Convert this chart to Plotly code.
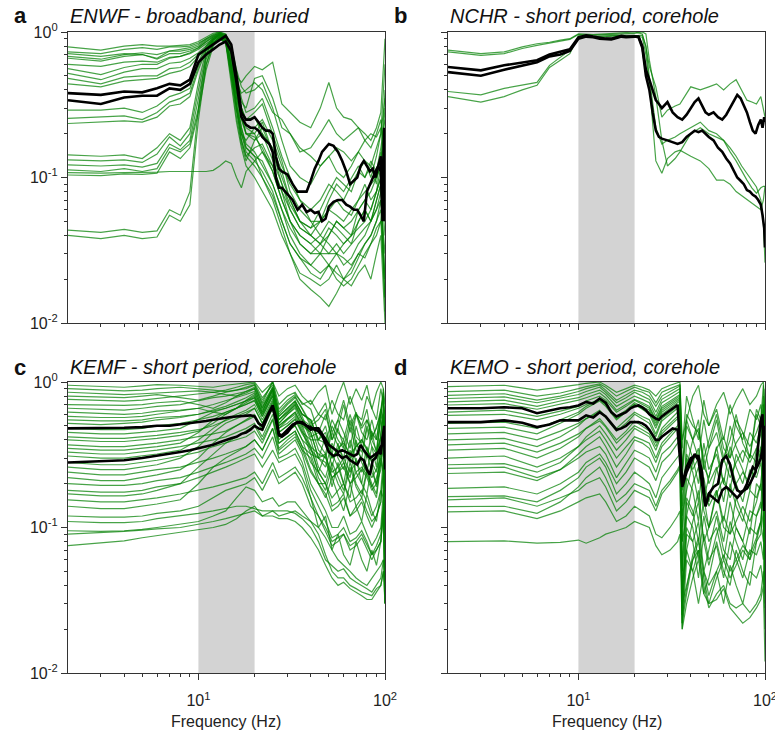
import math

import plotly.graph_objects as go

# ---------------------------------------------------------------- data
# normalised spectral amplitude vs frequency (Hz)

FREQ_A = [2, 3, 4, 5, 6, 7, 8, 9, 10, 11, 12, 13, 14, 15, 16, 17, 18, 20, 22, 25,
          28, 31, 35, 40, 45, 50, 55, 60, 66, 72, 78, 84, 90, 95, 100]
ENWF_GREEN = [
    [.79, .75, .80, .82, .80, .80, .81, .82, .86, .92, .98, 1.0, .97, .80, .55, .42, .38,
     .40, .45, .30, .18, .12, .10, .09, .12, .14, .11, .10, .12, .15, .13, .10, .14, .20, .60],
    [.73, .71, .76, .78, .76, .79, .79, .80, .84, .90, .95, .98, .96, .78, .50, .35, .28,
     .30, .35, .22, .14, .10, .07, .06, .07, .09, .08, .07, .09, .11, .10, .12, .09, .15, .05],
    [.71, .68, .71, .70, .66, .74, .74, .76, .80, .88, .94, .99, .93, .70, .42, .30, .25,
     .26, .20, .16, .11, .07, .05, .045, .05, .06, .055, .05, .06, .07, .09, .07, .08, .12, .30],
    [.66, .63, .68, .70, .65, .71, .71, .74, .78, .86, .92, .96, .95, .72, .45, .33, .30,
     .48, .50, .35, .22, .20, .16, .14, .12, .14, .16, .15, .13, .15, .18, .16, .20, .25, .15],
    [.56, .51, .57, .60, .60, .66, .68, .71, .76, .83, .90, .95, .90, .65, .40, .30, .22,
     .20, .15, .12, .08, .05, .04, .035, .04, .05, .045, .04, .035, .05, .06, .05, .07, .09, .02],
    [.52, .47, .53, .56, .56, .61, .62, .66, .72, .80, .88, .93, .88, .60, .35, .27, .20,
     .18, .22, .15, .09, .06, .045, .04, .035, .03, .03, .035, .04, .045, .05, .06, .08, .10, .04],
    [.48, .44, .49, .50, .50, .56, .57, .62, .70, .78, .85, .92, .86, .58, .32, .22, .17,
     .15, .12, .09, .06, .04, .03, .025, .022, .025, .03, .028, .025, .03, .035, .04, .05, .06, .015],
    [.44, .42, .46, .47, .48, .52, .54, .58, .68, .76, .84, .90, .84, .55, .30, .20, .18,
     .22, .25, .18, .12, .09, .07, .05, .04, .035, .03, .025, .028, .035, .04, .05, .06, .08, .10],
    [.29, .29, .30, .28, .31, .36, .38, .41, .62, .80, .92, .97, .92, .70, .45, .30, .25,
     .28, .32, .20, .13, .08, .06, .05, .05, .07, .09, .08, .10, .12, .10, .13, .11, .16, .25],
    [.255, .26, .265, .25, .28, .33, .35, .38, .58, .78, .90, .96, .90, .62, .38, .26, .20,
     .19, .16, .11, .07, .05, .035, .03, .03, .04, .05, .045, .04, .06, .07, .06, .08, .10, .05],
    [.235, .24, .245, .24, .26, .31, .32, .36, .55, .75, .88, .95, .88, .58, .34, .22, .16,
     .14, .10, .07, .045, .03, .022, .02, .018, .02, .025, .02, .022, .028, .035, .04, .05, .07, .02],
    [.143, .14, .143, .135, .16, .20, .18, .22, .45, .75, .90, .98, .92, .60, .38, .25, .20,
     .20, .24, .15, .10, .07, .05, .045, .06, .08, .10, .09, .08, .11, .13, .12, .16, .20, .35],
    [.132, .13, .132, .127, .145, .19, .165, .20, .40, .70, .88, .96, .90, .55, .32, .20, .16,
     .14, .13, .09, .06, .045, .035, .03, .035, .045, .04, .035, .04, .05, .06, .05, .07, .09, .012],
    [.122, .12, .122, .118, .125, .17, .155, .18, .35, .65, .85, .93, .88, .50, .28, .18, .14,
     .12, .10, .075, .05, .035, .028, .025, .03, .025, .02, .018, .02, .025, .03, .035, .045, .05, .015],
    [.113, .11, .115, .11, .115, .16, .15, .17, .30, .60, .82, .92, .85, .48, .26, .17, .13,
     .18, .20, .13, .09, .065, .05, .04, .035, .04, .05, .045, .05, .06, .07, .08, .10, .12, .40],
    [.108, .107, .108, .108, .109, .11, .11, .111, .11, .11, .112, .12, .13, .125, .10, .085, .11,
     .13, .15, .11, .07, .05, .04, .035, .03, .03, .035, .03, .035, .04, .045, .05, .06, .07, .03],
    [.104, .103, .106, .105, .107, .15, .135, .16, .28, .55, .80, .90, .84, .45, .24, .16, .12,
     .10, .08, .06, .04, .03, .02, .017, .015, .013, .016, .02, .018, .022, .025, .02, .03, .04, .01],
    [.0435, .042, .044, .042, .043, .06, .055, .08, .30, .70, .88, .95, .88, .55, .30, .20, .15,
     .13, .11, .08, .05, .035, .028, .022, .02, .025, .022, .02, .024, .03, .028, .035, .04, .05, .08],
    [.040, .038, .040, .038, .039, .055, .05, .065, .25, .60, .85, .92, .86, .50, .28, .18, .14,
     .16, .17, .12, .08, .06, .045, .04, .05, .06, .07, .06, .055, .07, .08, .09, .10, .12, .20],
    [.68, .65, .70, .72, .70, .74, .76, .78, .82, .90, .96, 1.0, .95, .75, .50, .45, .50,
     .58, .55, .62, .32, .28, .24, .22, .30, .45, .30, .26, .25, .22, .20, .18, .22, .28, .90],
    [.60, .58, .62, .63, .62, .67, .68, .72, .78, .86, .93, .98, .93, .70, .45, .38, .40,
     .45, .40, .28, .25, .20, .15, .16, .20, .25, .20, .18, .20, .22, .18, .20, .19, .22, .12],
]

FREQ_B = [2, 3, 4, 5, 6, 7, 8, 9, 10, 12, 14, 16, 18, 20, 22, 23, 24, 26, 28, 30,
          33, 35, 40, 45, 50, 55, 60, 65, 70, 75, 80, 85, 90, 95, 98, 100]
NCHR_GREEN = [
    [.75, .71, .73, .79, .83, .85, .88, .90, .97, .96, .97, .98, .99, 1.0, .97, .79, .58, .42,
     .26, .29, .31, .32, .42, .40, .42, .44, .40, .44, .47, .40, .34, .33, .32, .36, .30, .26],
    [.73, .69, .71, .77, .81, .84, .86, .89, .96, .95, .96, .97, .97, .98, 1.0, .97, .64, .36,
     .18, .12, .135, .15, .20, .22, .20, .19, .18, .16, .14, .12, .107, .095, .086, .07, .05, .026],
    [.36, .33, .36, .40, .43, .57, .64, .71, .94, .93, .94, .95, .94, .95, .92, .70, .44, .13,
     .107, .135, .15, .154, .14, .13, .115, .096, .096, .09, .08, .075, .07, .066, .063, .06, .07, .087],
    [.39, .37, .41, .43, .45, .59, .67, .75, .92, .92, .93, .94, .93, .94, .95, .80, .49, .22,
     .17, .18, .19, .20, .22, .24, .21, .20, .18, .15, .13, .11, .096, .085, .078, .085, .087, .087],
]

FREQ_C = [2, 3, 4, 5, 6, 8, 10, 12, 14, 16, 18, 20, 22, 25, 27, 30, 33, 36, 40, 44,
          48, 52, 56, 60, 65, 70, 75, 80, 85, 90, 95, 98, 100]
KEMF_GREEN = [
    [.95, .93, .92, .94, .96, .95, .93, .92, .95, .97, .99, 1.0, .85, 1.0, .80, .90, .95, .80,
     .70, .85, .95, .60, .80, 1.0, .70, .90, .75, .95, .65, .85, 1.0, .90, .70],
    [.90, .88, .87, .88, .90, .92, .90, .88, .86, .88, .90, .95, .75, 1.0, .70, .80, .85, .70,
     .75, .60, .55, .75, .60, .55, .80, .60, .55, .80, .65, .55, .90, .70, .60],
    [.85, .83, .82, .83, .84, .86, .87, .85, .88, .92, .96, .98, .78, .95, .65, .75, .82, .72,
     .65, .45, .60, .40, .55, .45, .35, .60, .45, .40, .55, .40, .65, .80, .40],
    [.80, .79, .78, .80, .82, .78, .75, .80, .85, .88, .92, .96, .70, .92, .60, .70, .78, .65,
     .50, .55, .65, .40, .48, .70, .45, .60, .50, .65, .40, .50, .60, .90, .35],
    [.76, .75, .74, .75, .77, .80, .83, .85, .82, .80, .84, .90, .68, .88, .58, .66, .74, .60,
     .55, .40, .38, .55, .45, .40, .60, .42, .38, .55, .45, .40, .65, .55, .45],
    [.70, .69, .69, .70, .72, .74, .70, .66, .72, .80, .86, .92, .72, 1.0, .62, .72, .80, .66,
     .52, .60, .72, .45, .55, .75, .50, .62, .48, .55, .42, .48, .65, .85, .45],
    [.66, .65, .64, .66, .68, .70, .74, .78, .80, .83, .86, .90, .66, .90, .55, .62, .70, .58,
     .42, .45, .38, .30, .35, .38, .32, .36, .40, .34, .30, .33, .42, .60, .25],
    [.62, .61, .60, .61, .63, .64, .66, .70, .74, .78, .82, .86, .64, .86, .52, .60, .68, .55,
     .50, .34, .30, .45, .36, .30, .50, .34, .30, .48, .36, .32, .55, .45, .35],
    [.58, .57, .57, .58, .60, .63, .66, .62, .60, .66, .75, .82, .62, .90, .55, .64, .72, .60,
     .55, .40, .50, .32, .48, .36, .28, .50, .36, .30, .46, .32, .55, .80, .30],
    [.55, .54, .54, .55, .57, .58, .60, .63, .66, .70, .74, .78, .60, .82, .50, .56, .62, .50,
     .36, .32, .30, .24, .26, .30, .24, .28, .30, .26, .22, .25, .30, .55, .15],
    [.52, .51, .52, .53, .55, .57, .60, .64, .68, .73, .78, .84, .66, .92, .58, .66, .74, .60,
     .55, .38, .32, .50, .40, .35, .55, .38, .33, .50, .40, .34, .60, .50, .40],
    [.48, .47, .47, .48, .50, .52, .55, .58, .62, .66, .70, .75, .58, .80, .48, .55, .60, .48,
     .34, .30, .28, .22, .24, .26, .20, .22, .25, .22, .18, .20, .25, .45, .12],
    [.45, .44, .44, .45, .46, .48, .55, .62, .66, .70, .74, .80, .62, .88, .55, .62, .70, .55,
     .40, .40, .45, .30, .34, .40, .30, .36, .40, .35, .28, .32, .42, .70, .18],
    [.42, .41, .41, .42, .43, .45, .47, .50, .54, .58, .62, .66, .52, .74, .45, .50, .56, .45,
     .40, .26, .22, .32, .26, .20, .34, .24, .20, .32, .24, .20, .36, .30, .25],
    [.40, .39, .39, .40, .41, .43, .46, .52, .60, .66, .72, .78, .60, .84, .52, .60, .66, .52,
     .45, .30, .42, .26, .38, .28, .22, .40, .28, .24, .36, .26, .45, .60, .16],
    [.37, .36, .36, .37, .38, .40, .42, .44, .46, .50, .54, .58, .46, .66, .40, .46, .50, .40,
     .28, .24, .20, .16, .18, .20, .15, .16, .18, .15, .12, .14, .18, .30, .08],
    [.35, .34, .34, .35, .36, .38, .45, .55, .62, .66, .70, .74, .58, .80, .50, .56, .62, .50,
     .45, .30, .26, .38, .30, .25, .40, .28, .24, .36, .28, .24, .42, .35, .28],
    [.33, .32, .32, .33, .34, .36, .38, .40, .42, .45, .48, .52, .42, .60, .38, .42, .46, .36,
     .25, .20, .17, .13, .14, .16, .12, .13, .15, .12, .10, .12, .15, .25, .06],
    [.31, .30, .30, .31, .32, .34, .40, .48, .55, .60, .64, .70, .55, .76, .48, .52, .58, .46,
     .32, .30, .32, .22, .24, .28, .20, .24, .26, .23, .19, .22, .28, .45, .12],
    [.28, .27, .27, .28, .29, .31, .33, .36, .38, .40, .42, .46, .38, .55, .35, .40, .44, .34,
     .30, .20, .16, .22, .17, .13, .20, .14, .11, .17, .13, .11, .18, .16, .12],
    [.26, .25, .25, .26, .27, .30, .36, .45, .52, .56, .60, .66, .52, .72, .45, .50, .55, .44,
     .36, .24, .32, .19, .28, .20, .16, .30, .20, .17, .27, .19, .34, .42, .10],
    [.24, .23, .23, .24, .25, .26, .28, .30, .32, .34, .36, .40, .34, .48, .32, .36, .40, .32,
     .20, .16, .13, .10, .10, .12, .09, .095, .11, .09, .075, .085, .10, .18, .04],
    [.22, .21, .21, .22, .23, .25, .30, .38, .45, .50, .55, .60, .48, .66, .42, .46, .50, .40,
     .35, .24, .20, .28, .22, .18, .28, .20, .17, .25, .20, .17, .30, .25, .20],
    [.20, .195, .195, .20, .21, .22, .24, .26, .28, .30, .32, .35, .30, .42, .30, .32, .35, .28,
     .18, .14, .11, .085, .09, .10, .08, .085, .095, .08, .065, .075, .09, .15, .035],
    [.18, .175, .175, .18, .19, .20, .22, .24, .26, .28, .30, .32, .26, .34, .28, .30, .32, .26,
     .16, .12, .095, .075, .08, .09, .07, .075, .085, .07, .06, .07, .08, .14, .03],
    [.17, .165, .165, .17, .18, .20, .26, .32, .38, .42, .46, .50, .40, .56, .38, .42, .46, .36,
     .32, .22, .18, .26, .20, .17, .26, .19, .16, .24, .19, .16, .28, .24, .18],
    [.155, .15, .15, .155, .16, .17, .18, .19, .20, .21, .22, .24, .20, .28, .22, .24, .26, .22,
     .16, .10, .12, .07, .09, .065, .055, .08, .06, .05, .07, .055, .08, .12, .03],
    [.14, .135, .135, .14, .145, .155, .20, .26, .30, .33, .36, .40, .34, .48, .34, .38, .42, .34,
     .24, .20, .20, .14, .15, .17, .12, .14, .16, .13, .11, .12, .15, .25, .06],
    [.12, .118, .118, .12, .125, .13, .14, .16, .18, .19, .20, .22, .18, .25, .20, .22, .24, .20,
     .14, .12, .10, .08, .085, .09, .075, .08, .09, .075, .065, .07, .08, .13, .035],
    [.11, .108, .108, .11, .115, .12, .125, .13, .135, .14, .14, .135, .13, .13, .13, .13, .125, .115,
     .10, .08, .06, .055, .05, .052, .045, .042, .04, .038, .036, .04, .045, .06, .03],
    [.095, .094, .095, .097, .10, .105, .11, .12, .13, .16, .19, .18, .15, .16, .14, .15, .15, .13,
     .11, .09, .065, .05, .045, .045, .04, .038, .036, .035, .034, .038, .04, .05, .03],
    [.075, .078, .081, .085, .088, .092, .097, .10, .105, .115, .13, .14, .12, .12, .115, .115, .11, .10,
     .085, .07, .055, .045, .04, .042, .038, .036, .034, .032, .032, .036, .04, .05, .04],
    [.09, .092, .094, .096, .098, .10, .105, .11, .115, .12, .125, .13, .12, .13, .12, .125, .13, .12,
     .11, .10, .085, .07, .06, .055, .05, .045, .042, .04, .045, .05, .055, .06, .05],
]

FREQ_D = [2, 4, 6, 8, 10, 11, 13, 14, 16, 18, 20, 22, 24, 26, 28, 31, 34, 35, 36, 38,
          41, 44, 47, 50, 55, 60, 65, 70, 76, 83, 90, 95, 98, 100]
KEMO_GREEN = [
    [.93, .95, .88, .92, .96, .98, 1.0, .95, .85, .90, .95, .92, .88, .80, .90, .95, .98, 1.0,
     .40, .55, .80, .95, .60, .50, .70, .85, .60, .75, .90, .70, .80, .95, 1.0, .60],
    [.86, .88, .80, .84, .90, .93, .97, .92, .80, .86, .92, .88, .85, .72, .85, .90, .95, .96,
     .35, .80, .55, .40, .75, .50, .65, .40, .70, .50, .40, .65, .55, .70, .40, .90],
    [.81, .83, .75, .80, .86, .90, .95, .88, .75, .82, .88, .85, .80, .68, .80, .86, .92, .94,
     .25, .60, .50, .45, .30, .40, .60, .35, .30, .55, .45, .30, .60, .50, .70, .30],
    [.77, .79, .72, .77, .82, .86, .92, .85, .72, .78, .85, .80, .76, .62, .76, .82, .88, .90,
     .25, .55, .40, .30, .55, .35, .45, .28, .50, .36, .28, .45, .38, .50, .30, .70],
    [.73, .75, .68, .74, .78, .82, .88, .82, .68, .74, .80, .76, .72, .58, .72, .78, .84, .86,
     .18, .26, .40, .48, .26, .22, .35, .42, .30, .38, .45, .36, .45, .55, .80, .20],
    [.695, .71, .65, .70, .75, .78, .84, .78, .64, .70, .76, .72, .68, .55, .68, .74, .80, .82,
     .10, .40, .30, .20, .38, .25, .32, .20, .36, .26, .20, .32, .28, .36, .22, .55],
    [.62, .64, .58, .63, .68, .74, .80, .75, .62, .68, .75, .70, .66, .54, .66, .72, .78, .80,
     .22, .50, .40, .55, .25, .35, .55, .30, .40, .60, .38, .30, .65, .55, .95, .35],
    [.59, .60, .55, .60, .66, .70, .76, .70, .56, .62, .70, .66, .62, .50, .62, .68, .74, .76,
     .12, .18, .28, .35, .18, .15, .25, .30, .22, .28, .34, .28, .35, .44, .65, .15],
    [.52, .53, .48, .55, .62, .68, .76, .70, .58, .64, .72, .68, .64, .52, .64, .70, .76, .78,
     .08, .30, .24, .15, .30, .20, .26, .15, .28, .20, .15, .25, .22, .28, .18, .45],
    [.48, .49, .44, .52, .60, .66, .74, .68, .55, .62, .70, .65, .60, .48, .60, .66, .72, .74,
     .14, .32, .25, .30, .16, .22, .36, .20, .18, .32, .25, .18, .35, .30, .70, .16],
    [.44, .45, .40, .46, .52, .56, .62, .57, .46, .52, .60, .56, .52, .42, .54, .60, .66, .70,
     .05, .22, .18, .11, .22, .14, .18, .11, .20, .14, .11, .18, .16, .20, .13, .35],
    [.40, .41, .36, .42, .50, .56, .64, .58, .48, .55, .62, .58, .55, .44, .56, .62, .68, .72,
     .08, .12, .20, .26, .13, .10, .17, .22, .16, .20, .24, .20, .26, .33, .50, .10],
    [.37, .38, .33, .38, .44, .48, .54, .49, .38, .44, .50, .47, .44, .36, .46, .52, .58, .62,
     .03, .16, .13, .08, .16, .10, .13, .08, .15, .10, .08, .13, .12, .15, .10, .30],
    [.34, .35, .30, .35, .42, .48, .56, .50, .40, .46, .54, .50, .46, .38, .48, .55, .62, .66,
     .05, .15, .12, .18, .08, .10, .18, .10, .09, .16, .12, .09, .20, .18, .40, .07],
    [.30, .31, .26, .30, .36, .40, .46, .40, .30, .36, .42, .40, .38, .30, .38, .44, .50, .54,
     .025, .12, .10, .06, .12, .08, .10, .06, .11, .08, .06, .10, .09, .11, .08, .25],
    [.27, .275, .24, .28, .36, .42, .50, .44, .34, .40, .48, .45, .42, .34, .44, .50, .56, .60,
     .04, .07, .11, .15, .08, .055, .09, .12, .09, .11, .14, .11, .15, .20, .32, .05],
    [.255, .26, .22, .25, .30, .33, .36, .32, .22, .28, .34, .32, .30, .24, .32, .36, .42, .45,
     .035, .10, .08, .11, .05, .07, .12, .07, .06, .10, .08, .06, .12, .14, .30, .045],
    [.235, .24, .21, .25, .32, .36, .42, .36, .26, .32, .40, .38, .35, .28, .36, .42, .48, .50,
     .022, .09, .08, .045, .09, .06, .075, .045, .08, .06, .045, .07, .065, .08, .06, .20],
    [.186, .19, .17, .20, .24, .28, .32, .28, .20, .24, .30, .28, .26, .21, .28, .32, .38, .40,
     .028, .07, .05, .07, .035, .045, .08, .05, .04, .07, .05, .04, .08, .09, .25, .035],
    [.163, .165, .15, .18, .22, .26, .30, .26, .17, .20, .24, .22, .20, .16, .22, .26, .30, .32,
     .02, .06, .05, .03, .05, .04, .05, .03, .055, .04, .03, .05, .045, .055, .04, .15],
    [.155, .16, .14, .16, .18, .20, .22, .19, .13, .15, .18, .17, .16, .13, .17, .20, .24, .26,
     .022, .035, .06, .08, .045, .03, .045, .06, .045, .055, .07, .06, .08, .11, .20, .028],
    [.139, .14, .125, .15, .19, .22, .26, .22, .15, .17, .20, .19, .18, .14, .18, .21, .25, .27,
     .025, .038, .065, .085, .05, .034, .05, .065, .05, .06, .075, .065, .085, .11, .18, .03],
    [.128, .13, .115, .13, .15, .16, .17, .15, .11, .12, .14, .13, .12, .09, .085, .10, .12, .13,
     .03, .04, .06, .07, .04, .028, .035, .04, .03, .028, .03, .026, .03, .035, .05, .02],
    [.08, .081, .078, .079, .082, .078, .085, .09, .095, .10, .11, .105, .10, .075, .065, .07, .08, .09,
     .02, .03, .045, .06, .035, .03, .032, .038, .028, .025, .022, .024, .028, .032, .04, .012],
]

# the two heavy black curves share one frequency list in every panel
FREQ_BLACK = [2, 3, 4, 5, 6, 7, 8, 9, 10, 11, 12, 13, 14, 15, 16, 17, 18, 19, 20, 21,
              22, 23, 24, 25, 26, 27, 28, 30, 32, 34, 36, 38, 40, 42, 44, 46, 48, 50,
              53, 56, 59, 62, 65, 68, 71, 74, 77, 80, 83, 86, 89, 92, 95, 97, 99, 100]
ENWF_BLACK = [
    [.38, .37, .39, .385, .41, .44, .43, .47, .70, .76, .82, .89, .94, .82, .50, .28, .25, .25,
     .26, .24, .22, .21, .21, .20, .14, .115, .11, .105, .09, .08, .08, .08, .095, .115, .13,
     .15, .16, .17, .165, .15, .13, .11, .09, .095, .10, .12, .13, .12, .11, .115, .10, .12,
     .14, .06, .22, .10],
    [.34, .32, .355, .365, .365, .41, .40, .44, .62, .70, .76, .82, .86, .74, .45, .26, .23, .22,
     .22, .21, .19, .18, .17, .15, .10, .085, .085, .077, .07, .06, .065, .058, .06, .057, .058,
     .05, .052, .063, .068, .07, .07, .065, .063, .06, .06, .055, .05, .08, .09, .10, .11, .12,
     .11, .05, .18, .05],
]
NCHR_BLACK = [
    [.575, .545, .59, .62, .64, .70, .73, .76, .92, .95, .93, .91, .90, .90, .92, .94, .93, .93,
     .94, .93, .80, .55, .47, .40, .34, .32, .30, .33, .28, .26, .25, .27, .30, .33, .35, .31,
     .28, .27, .28, .26, .25, .27, .30, .33, .37, .35, .31, .28, .24, .21, .20, .23, .25, .22,
     .26, .24],
    [.53, .50, .55, .59, .62, .68, .70, .74, .90, .93, .92, .90, .89, .89, .91, .93, .92, .93,
     .93, .92, .78, .50, .40, .28, .21, .19, .185, .18, .175, .17, .175, .19, .20, .21, .205, .21,
     .20, .19, .18, .16, .15, .135, .125, .11, .10, .095, .09, .082, .08, .076, .074, .07, .065,
     .055, .045, .033],
]
KEMF_BLACK = [
    [.48, .48, .485, .49, .50, .50, .51, .52, .53, .54, .55, .56, .57, .575, .58, .585, .59, .59,
     .58, .52, .50, .56, .63, .69, .58, .44, .43, .47, .51, .53, .52, .50, .47, .48, .48, .44,
     .40, .37, .35, .33, .34, .33, .32, .31, .32, .37, .34, .32, .30, .31, .32, .33, .32, .42,
     .48, .30],
    [.28, .285, .29, .30, .31, .32, .33, .34, .35, .36, .37, .385, .40, .41, .42, .44, .45, .47,
     .50, .48, .47, .55, .62, .66, .55, .43, .42, .45, .50, .53, .53, .50, .49, .47, .46, .43,
     .38, .33, .31, .32, .30, .31, .29, .28, .27, .30, .29, .25, .23, .29, .30, .33, .36, .37,
     .50, .25],
]
KEMO_BLACK = [
    [.66, .66, .67, .66, .61, .64, .66, .67, .69, .73, .71, .77, .72, .62, .58, .60, .62, .66,
     .68, .69, .67, .64, .60, .58, .56, .55, .58, .62, .66, .695, .20, .26, .30, .31, .31, .24,
     .14, .17, .19, .20, .29, .31, .27, .21, .18, .175, .18, .185, .20, .22, .24, .37, .55, .60,
     .13, .40],
    [.53, .53, .545, .525, .49, .51, .545, .545, .545, .59, .57, .62, .58, .52, .47, .48, .50, .53,
     .53, .53, .52, .50, .47, .43, .40, .40, .42, .45, .48, .47, .19, .24, .28, .32, .29, .20,
     .14, .17, .16, .15, .18, .19, .18, .17, .16, .17, .18, .20, .23, .26, .25, .27, .30, .35,
     .50, .13],
]

LETTERS = ["a", "b", "c", "d"]
TITLES = ["ENWF - broadband, buried", "NCHR - short period, corehole",
          "KEMF - short period, corehole", "KEMO - short period, corehole"]
FREQS = [FREQ_A, FREQ_B, FREQ_C, FREQ_D]
GREENS = [ENWF_GREEN, NCHR_GREEN, KEMF_GREEN, KEMO_GREEN]
BLACKS = [ENWF_BLACK, NCHR_BLACK, KEMF_BLACK, KEMO_BLACK]

BAND = [10, 20]            # shaded frequency band (Hz)
X_RANGE = [2, 100]
Y_RANGE = [0.01, 1]
X_TICKS = [10, 100]
X_TICK_TEXT = ["10<sup>1</sup>", "10<sup>2</sup>"]
Y_TICKS = [0.01, 0.1, 1]
Y_TICK_TEXT = ["10<sup>-2</sup>", "10<sup>-1</sup>", "10<sup>0</sup>"]
X_MINOR = [3, 4, 5, 6, 7, 8, 9, 20, 30, 40, 50, 60, 70, 80, 90]
Y_MINOR = [0.02, 0.03, 0.04, 0.05, 0.06, 0.07, 0.08, 0.09,
           0.2, 0.3, 0.4, 0.5, 0.6, 0.7, 0.8, 0.9]

# ---------------------------------------------------------------- layout
W, H = 775, 734
BOXES = [(68, 385, 32, 323), (448, 765, 32, 323),
         (68, 385, 382, 673), (448, 765, 382, 673)]   # plot boxes in px
GREEN = "rgba(0,128,0,0.72)"
AXIS_COLOR = "#333333"
FONT = "Arial, Liberation Sans, sans-serif"


def px_x(v):
    return v / W


def px_y(v):
    return 1 - v / H


fig = go.Figure()
annotations = []

for k, box in enumerate(BOXES):
    sfx = "" if k == 0 else str(k + 1)
    xa, ya = "x" + sfx, "y" + sfx
    freq = FREQS[k]

    fig.add_trace(go.Scatter(
        x=[BAND[0], BAND[1], BAND[1], BAND[0]],
        y=[Y_RANGE[0], Y_RANGE[0], Y_RANGE[1], Y_RANGE[1]],
        fill="toself", fillcolor="#d3d3d3", mode="none",
        hoverinfo="skip", xaxis=xa, yaxis=ya,
    ))
    for row in GREENS[k]:
        assert len(row) == len(freq)
        fig.add_trace(go.Scatter(
            x=freq, y=row, mode="lines", line=dict(color=GREEN, width=1.2),
            xaxis=xa, yaxis=ya,
        ))
    for row in BLACKS[k]:
        assert len(row) == len(FREQ_BLACK)
        fig.add_trace(go.Scatter(
            x=FREQ_BLACK, y=row, mode="lines", line=dict(color="black", width=2.6),
            xaxis=xa, yaxis=ya,
        ))

    x0, x1, y0, y1 = box
    common = dict(
        type="log", showgrid=False, zeroline=False, automargin=False,
        showline=True, mirror=True, linecolor=AXIS_COLOR, linewidth=1.3,
        ticks="outside", ticklen=6, tickwidth=1.3, tickcolor=AXIS_COLOR,
        tickfont=dict(family=FONT, size=16, color="#222222"),
        ticklabeloverflow="allow",
    )
    fig.update_layout(**{
        "xaxis" + sfx: dict(
            common, domain=[px_x(x0), px_x(x1)], anchor=ya,
            range=[math.log10(X_RANGE[0]), math.log10(X_RANGE[1])],
            tickmode="array", tickvals=X_TICKS, ticktext=X_TICK_TEXT,
            showticklabels=k >= 2, ticklabelstandoff=7,
            minor=dict(tickmode="array", tickvals=X_MINOR, ticks="outside",
                       ticklen=3, tickwidth=1, tickcolor=AXIS_COLOR),
        ),
        "yaxis" + sfx: dict(
            common, domain=[px_y(y1), px_y(y0)], anchor=xa,
            range=[math.log10(Y_RANGE[0]), math.log10(Y_RANGE[1])],
            tickmode="array", tickvals=Y_TICKS, ticktext=Y_TICK_TEXT,
            showticklabels=k % 2 == 0,
            minor=dict(tickmode="array", tickvals=Y_MINOR, ticks="outside",
                       ticklen=3, tickwidth=1, tickcolor=AXIS_COLOR),
        ),
    })

    ty = 16 if k < 2 else 367
    annotations.append(dict(
        text="<b>" + LETTERS[k] + "</b>", xref="paper", yref="paper",
        x=px_x(x0 - 48), y=px_y(ty), xanchor="center", yanchor="middle",
        showarrow=False, font=dict(family=FONT, size=22, color="#111111"),
    ))
    annotations.append(dict(
        text="<i>" + TITLES[k] + "</i>", xref="paper", yref="paper",
        x=px_x(x0), y=px_y(ty), xanchor="left", yanchor="middle",
        showarrow=False, font=dict(family=FONT, size=20, color="#111111"),
    ))
    if k >= 2:
        annotations.append(dict(
            text="Frequency (Hz)", xref="paper", yref="paper",
            x=px_x((x0 + x1) / 2), y=px_y(721), xanchor="center", yanchor="middle",
            showarrow=False, font=dict(family=FONT, size=16, color="#222222"),
        ))

fig.update_layout(
    width=W, height=H, showlegend=False,
    margin=dict(l=0, r=0, t=0, b=0),
    paper_bgcolor="white", plot_bgcolor="white",
    annotations=annotations,
)

# drop the browser's default 8px body margin so the figure fills the window
fig.write_html("out.html", config={"displayModeBar": False},
               post_script="document.body.style.margin = '0';")
